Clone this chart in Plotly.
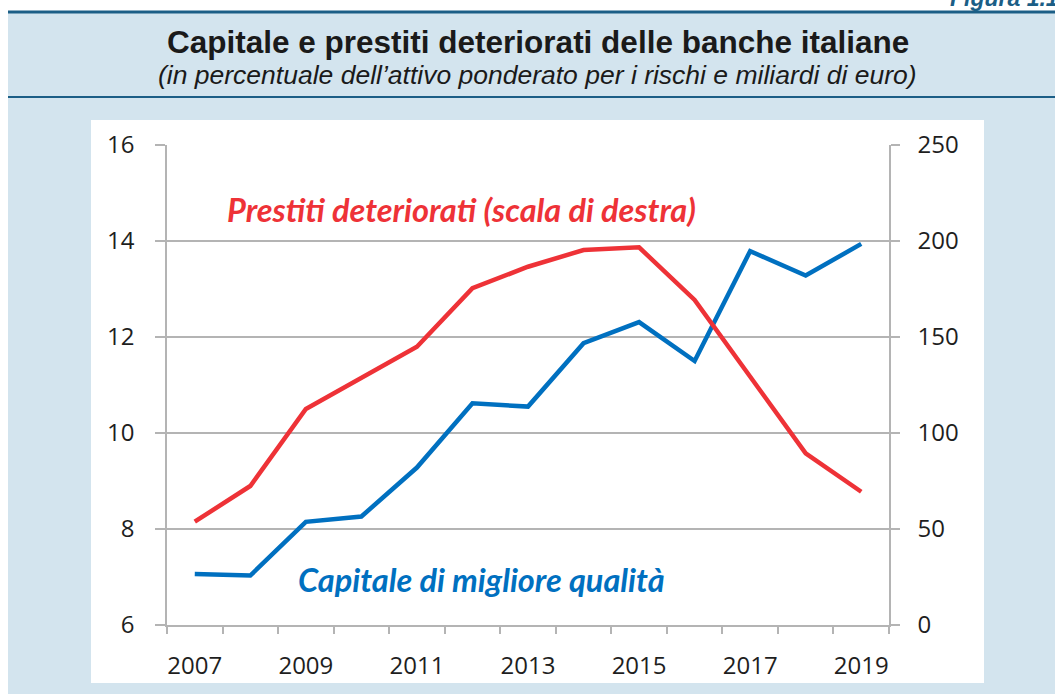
import plotly.graph_objects as go

# ---- data ----
years = [2007, 2008, 2009, 2010, 2011, 2012, 2013, 2014, 2015, 2016, 2017, 2018, 2019]
capitale = [7.06, 7.03, 8.15, 8.26, 9.28, 10.62, 10.55, 11.87, 12.31, 11.50, 13.79, 13.28, 13.94]
prestiti = [53.8, 72.4, 112.5, 129.0, 144.9, 175.4, 186.6, 195.3, 196.7, 169.3, 129.4, 89.4, 69.4]
year_ticks = [2007, 2009, 2011, 2013, 2015, 2017, 2019]
left_ticks = [6, 8, 10, 12, 14, 16]
right_ticks = [0, 50, 100, 150, 200, 250]

title = "Capitale e prestiti deteriorati delle banche italiane"
subtitle = "(in percentuale dell\u2019attivo ponderato per i rischi e miliardi di euro)"
label_red = "Prestiti deteriorati (scala di destra)"
label_blue = "Capitale di migliore qualità"

# ---- layout geometry (pixels) ----
W, H = 1055, 694
PL, PR, PT, PB = 167, 889, 145, 625   # plot area
pw, ph = PR - PL, PB - PT

def px(x):
    return (x - PL) / pw

def py(y):
    return (PB - y) / ph

BLUE = "#0070C0"
RED = "#EE3237"
PANEL = "#D3E4EE"
DARK = "#1B5E86"
GRID = "#B4B4B4"

fig = go.Figure()
fig.add_trace(go.Scatter(x=years, y=capitale, mode="lines",
                         line=dict(color=BLUE, width=4.5), yaxis="y", xaxis="x",
                         showlegend=False, hoverinfo="x+y"))
fig.add_trace(go.Scatter(x=years, y=prestiti, mode="lines",
                         line=dict(color=RED, width=4.5), yaxis="y2", xaxis="x",
                         showlegend=False, hoverinfo="x+y"))
# invisible trace to activate boundary-tick axis
fig.add_trace(go.Scatter(x=[years[0]], y=[capitale[0]], mode="markers",
                         marker=dict(opacity=0), xaxis="x2", yaxis="y",
                         showlegend=False, hoverinfo="skip"))

tick_font = dict(family="Open Sans", size=24, color="#1E1E1E")

fig.update_layout(
    width=W, height=H,
    margin=dict(l=PL, r=W - PR, t=PT, b=H - PB),
    paper_bgcolor="white", plot_bgcolor="rgba(0,0,0,0)",
    xaxis=dict(range=[years[0] - 0.5, years[-1] + 0.5], tickmode="array",
               tickvals=year_ticks, ticktext=[str(y) for y in year_ticks],
               ticks="outside", ticklen=8, tickcolor="rgba(0,0,0,0)",
               showgrid=False, zeroline=False, showline=True, linecolor=GRID,
               linewidth=1.5, tickfont=tick_font, ticklabelstandoff=10),
    xaxis2=dict(overlaying="x", range=[years[0] - 0.5, years[-1] + 0.5],
                tickmode="array", tickvals=[y - 0.5 for y in years] + [years[-1] + 0.5],
                ticks="outside", ticklen=8, tickcolor=GRID, tickwidth=1.5,
                showticklabels=False, showgrid=False, zeroline=False,
                showline=False, side="bottom", anchor="y"),
    yaxis=dict(range=[6, 16], tickmode="array", tickvals=left_ticks,
               ticks="outside", ticklen=10, tickcolor=GRID, tickwidth=1.5,
               showgrid=True, gridcolor=GRID, gridwidth=1.5, zeroline=False,
               showline=True, linecolor=GRID, linewidth=1.5,
               tickfont=tick_font, ticklabelstandoff=16),
    yaxis2=dict(range=[0, 250], tickmode="array", tickvals=right_ticks,
                overlaying="y", side="right", ticks="outside", ticklen=9,
                tickcolor=GRID, tickwidth=1.5, showgrid=False, zeroline=False,
                showline=True, linecolor=GRID, linewidth=1.5,
                tickfont=tick_font, ticklabelstandoff=13),
)

shapes = [
    dict(type="rect", xref="paper", yref="paper", x0=px(8), x1=px(W + 5),
         y0=py(13), y1=py(H + 5), fillcolor=PANEL, line=dict(width=0), layer="below"),
    dict(type="rect", xref="paper", yref="paper", x0=px(91), x1=px(984),
         y0=py(120), y1=py(683), fillcolor="white", line=dict(width=0), layer="below"),
    dict(type="line", xref="paper", yref="paper", x0=px(8), x1=px(W + 5),
         y0=py(12), y1=py(12), line=dict(color=DARK, width=3), layer="below"),
    dict(type="line", xref="paper", yref="paper", x0=px(8), x1=px(W + 5),
         y0=py(97), y1=py(97), line=dict(color=DARK, width=2), layer="below"),
]
fig.update_layout(shapes=shapes)

annotations = [
    dict(text="<b>" + title + "</b>", x=px(538), y=py(42), xref="paper", yref="paper",
         showarrow=False, xanchor="center", yanchor="middle",
         font=dict(family="Liberation Sans", size=31.5, color="#1A1A1A")),
    dict(text="<i>" + subtitle + "</i>", x=px(537), y=py(75), xref="paper", yref="paper",
         showarrow=False, xanchor="center", yanchor="middle",
         font=dict(family="Liberation Sans", size=26.5, color="#1A1A1A")),
    dict(text="<b><i>" + label_red + "</i></b>", x=px(461), y=py(209), xref="paper",
         yref="paper", showarrow=False, xanchor="center", yanchor="middle",
         font=dict(family="Lato", size=32.5, color=RED)),
    dict(text="<b><i>" + label_blue + "</i></b>", x=px(481), y=py(579), xref="paper",
         yref="paper", showarrow=False, xanchor="center", yanchor="middle",
         font=dict(family="Lato", size=32.5, color=BLUE)),
    dict(text="<b><i>Figura 1.1</i></b>", x=px(948), y=py(13), xref="paper",
         yref="paper", showarrow=False, xanchor="left", yanchor="bottom",
         font=dict(family="Liberation Sans", size=23, color=DARK)),
]
fig.update_layout(annotations=annotations)

fig.write_html("out.html", config={"displayModeBar": False},
               post_script="document.body.style.margin='0';")
